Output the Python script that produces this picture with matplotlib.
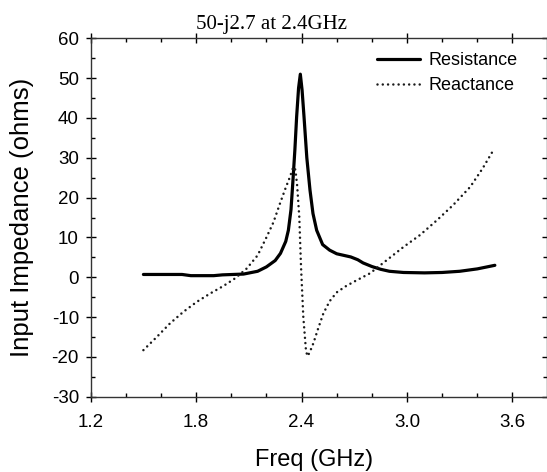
import matplotlib
matplotlib.use("Agg")
import matplotlib.pyplot as plt
from matplotlib.ticker import MultipleLocator

# ---- data ----
res_freq = [1.50, 1.60, 1.72, 1.77, 1.90, 1.95, 2.07, 2.15, 2.20, 2.25, 2.28, 2.31,
            2.325, 2.34, 2.35, 2.362, 2.372, 2.383, 2.393, 2.403, 2.414, 2.43, 2.448,
            2.465, 2.486, 2.52, 2.56, 2.60, 2.65, 2.68, 2.72, 2.75, 2.80, 2.85, 2.90,
            2.98, 3.10, 3.20, 3.30, 3.40, 3.50]
resistance = [0.7, 0.7, 0.7, 0.4, 0.4, 0.6, 0.8, 1.5, 2.6, 4.2, 6.0, 9.0,
              11.8, 17.0, 23.6, 32.0, 40.3, 47.5, 51.0, 47.0, 40.3, 30.0, 21.9,
              16.0, 11.8, 8.2, 6.8, 5.9, 5.4, 5.1, 4.4, 3.6, 2.7, 2.0, 1.5,
              1.2, 1.1, 1.2, 1.5, 2.1, 3.0]

rea_freq = [1.50, 1.576, 1.651, 1.727, 1.803, 1.879, 1.955, 2.021, 2.088, 2.15, 2.20,
            2.24, 2.277, 2.31, 2.334, 2.353, 2.365, 2.375, 2.387, 2.397, 2.41, 2.425,
            2.433, 2.445, 2.467, 2.495, 2.524, 2.56, 2.60, 2.65, 2.695, 2.79, 2.885,
            2.98, 3.074, 3.17, 3.262, 3.36, 3.43, 3.486]
reactance = [-18.3, -15.0, -11.6, -8.7, -6.2, -4.1, -2.2, -0.3, 2.2, 5.5, 10.0,
             13.8, 18.5, 22.5, 25.2, 27.7, 27.0, 23.0, 15.2, 2.6, -10.0, -18.3,
             -19.8, -19.0, -16.6, -12.8, -9.1, -6.0, -3.8, -2.3, -1.2, 1.0, 4.3,
             7.6, 10.6, 14.3, 18.1, 22.7, 27.3, 31.5]

x_ticks = [1.2, 1.8, 2.4, 3.0, 3.6]
x_tick_labels = ["1.2", "1.8", "2.4", "3.0", "3.6"]
y_ticks = [-30, -20, -10, 0, 10, 20, 30, 40, 50, 60]

title_text = "50-j2.7 at 2.4GHz"
xlabel_text = "Freq (GHz)"
ylabel_text = "Input Impedance (ohms)"

plt.rcParams['font.family'] = ['Liberation Sans', 'DejaVu Sans']
plt.rcParams['axes.unicode_minus'] = False

fig = plt.figure(figsize=(5.47, 4.72), dpi=100)
ax = fig.add_axes([0.1658, 0.1595, 0.8333, 0.7593])

ax.plot(res_freq, resistance, color='black', lw=2.3, solid_capstyle='round',
        solid_joinstyle='round', label='Resistance')
ax.plot(rea_freq, reactance, color='#1a1a1a', lw=1.8, linestyle=(0, (0.01, 2.1)),
        dash_capstyle='round', label='Reactance')

ax.set_xlim(1.2, 3.794)
ax.set_ylim(-30, 60)
ax.set_xticks(x_ticks)
ax.set_xticklabels(x_tick_labels)
ax.set_yticks(y_ticks)
ax.xaxis.set_minor_locator(MultipleLocator(0.2))
ax.yaxis.set_minor_locator(MultipleLocator(5))

ax.tick_params(axis='both', which='major', direction='inout', length=7,
               width=1, labelsize=13.5, colors='black')
ax.tick_params(axis='x', which='major', pad=9)
ax.tick_params(axis='y', which='major', pad=5)
ax.tick_params(axis='both', which='minor', direction='in', length=3, width=1)
ax.tick_params(top=True, right=True, which='both')
ax.tick_params(axis='x', which='both', labeltop=False)
ax.tick_params(axis='y', which='both', labelright=False)

for s in ax.spines.values():
    s.set_linewidth(1.0)
    s.set_color('#333333')

ax.set_xlabel(xlabel_text, fontsize=17, va='center')
ax.xaxis.set_label_coords(0.489, -0.177)
ax.set_ylabel(ylabel_text, fontsize=18.5, va='center')
ax.yaxis.set_label_coords(-0.1507, 0.5)

fig.text(0.497, 0.949, title_text, family=['Liberation Serif', 'DejaVu Serif'],
         fontsize=15, ha='center', va='center')

ax.legend(loc='upper left', bbox_to_anchor=(0.628, 0.962), frameon=False,
          fontsize=13, borderpad=0, borderaxespad=0, handlelength=2.4,
          handletextpad=0.45, labelspacing=0.45)

fig.savefig("out.png", dpi=100)
